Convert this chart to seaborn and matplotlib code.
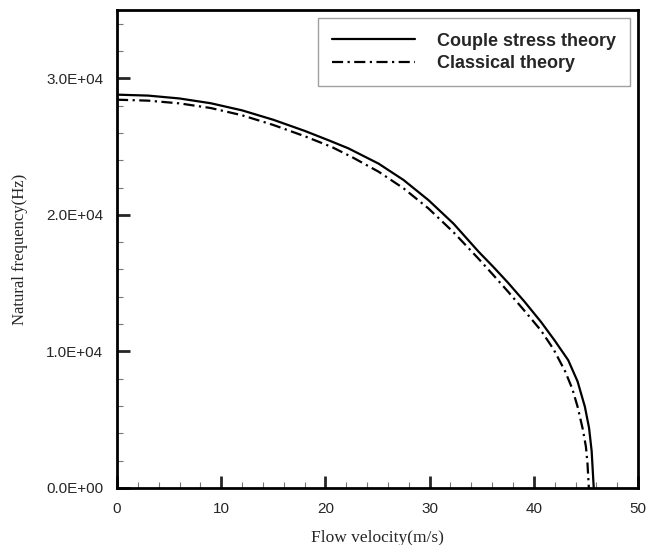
import matplotlib
matplotlib.use("Agg")
import matplotlib.pyplot as plt
import seaborn as sns
import pandas as pd
from matplotlib.ticker import MultipleLocator, FuncFormatter

# values
couple_v = [0, 3, 6, 9, 12, 15, 18, 20.3, 22.2, 25.1, 27.5, 29.9, 32.3, 34.7, 36.1, 37.5,
            39.1, 40.7, 42.0, 43.3, 44.2, 44.9, 45.3, 45.55, 45.75]
couple_f = [28800, 28730, 28520, 28170, 27650, 26960, 26150, 25460, 24870, 23750, 22550, 21070,
            19350, 17300, 16200, 15050, 13650, 12150, 10800, 9360, 7800, 5950, 4400, 2700, 0]

classic_v = [0, 3, 6, 9, 12, 15, 18, 20.6, 22.5, 25.1, 27.5, 29.9, 32.3, 34.7, 36.1, 37.5,
             39.1, 40.7, 41.9, 43.0, 43.7, 44.2, 44.7, 45.0, 45.15, 45.28]
classic_f = [28430, 28360, 28160, 27820, 27290, 26580, 25760, 24970, 24250, 23160, 21940, 20460,
             18720, 16780, 15600, 14400, 12980, 11520, 10150, 8550, 7250, 5950, 4300, 3020, 1800, 0]

df = pd.concat([
    pd.DataFrame({"v": couple_v, "f": couple_f, "theory": "Couple stress theory"}),
    pd.DataFrame({"v": classic_v, "f": classic_f, "theory": "Classical theory"}),
])

sns.set_style("ticks")
plt.rcParams["font.family"] = ["Liberation Sans", "DejaVu Sans"]

fig = plt.figure(figsize=(6.48, 5.45), dpi=100)
ax = fig.add_axes([0.1806, 0.1046, 0.8040, 0.8771])

sns.lineplot(
    data=df, x="v", y="f", hue="theory", style="theory",
    palette=["black", "black"],
    dashes={"Couple stress theory": "", "Classical theory": (5, 2, 1, 2)},
    sort=False, estimator=None, linewidth=1.6, ax=ax,
)

ax.set_xlim(0, 50)
ax.set_ylim(0, 35000)
ax.xaxis.set_major_locator(MultipleLocator(10))
ax.xaxis.set_minor_locator(MultipleLocator(2))
ax.yaxis.set_major_locator(MultipleLocator(10000))
ax.yaxis.set_minor_locator(MultipleLocator(2000))
ax.yaxis.set_major_formatter(FuncFormatter(lambda y, p: f"{y:.1E}"))

ax.tick_params(which="major", direction="in", length=9, width=2, labelsize=11, pad=10,
               top=False, right=False)
ax.tick_params(which="minor", direction="in", length=4.5, width=0.8, color="#777777",
               top=False, right=False)
for s in ax.spines.values():
    s.set_linewidth(2)
    s.set_color("black")

ax.set_xlabel("Flow velocity(m/s)", family=["Liberation Serif", "DejaVu Serif"], fontsize=12.5, labelpad=10)
ax.set_ylabel("Natural frequency(Hz)", family=["Liberation Serif", "DejaVu Serif"], fontsize=12, labelpad=13)

leg = ax.legend(loc="upper right", bbox_to_anchor=(0.985, 0.983), borderaxespad=0,
                frameon=True, fancybox=False, handlelength=4.6, borderpad=0.8,
                labelspacing=0.3, handletextpad=1.2,
                prop={"weight": "bold", "size": 13})
leg.get_frame().set_edgecolor("#888888")
leg.get_frame().set_linewidth(1)
leg.set_title(None)

fig.savefig("out.png", dpi=100)
